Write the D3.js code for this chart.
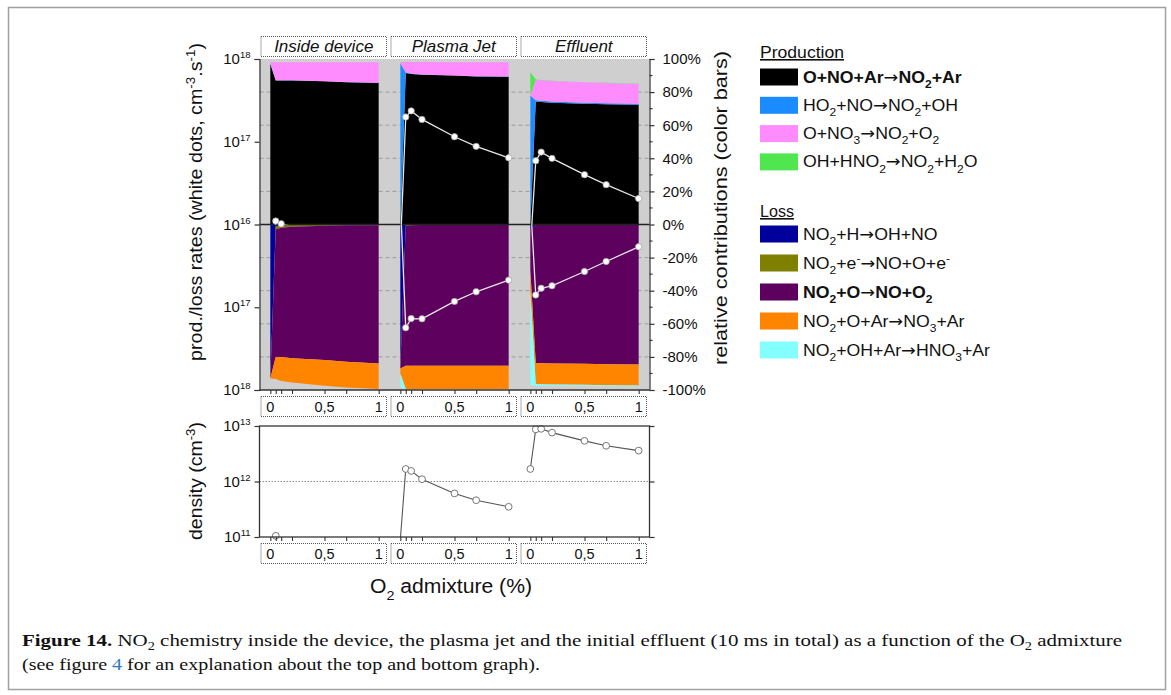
<!DOCTYPE html>
<html><head><meta charset="utf-8">
<script src="https://cdn.jsdelivr.net/npm/d3@7"></script>
<style>
body{margin:0;background:#fff}
svg{display:block}
text{font-family:"Liberation Sans",Arial,sans-serif;fill:#111}
</style>
</head><body>
<svg id="c" width="1171" height="695"></svg>
<script>
// ---------------- DATA ----------------
const xValues = [0, 0.05, 0.1, 0.2, 0.5, 0.7, 1];           // O2 admixture (%)
const panels = ["Inside device", "Plasma Jet", "Effluent"];
const xTickLabels = [[0, "0"], [0.5, "0,5"], [1, "1"]];
const rateTickValues = [100, 50, 0, -50, -100];
const rateTickExponents = ["18", "17", "16", "17", "18"];
const pctTicks = [-100, -80, -60, -40, -20, 0, 20, 40, 60, 80, 100];
const densTickValues = [1e13, 1e12, 1e11];
const densTickExponents = ["13", "12", "11"];

// Relative contributions (%) per panel [inside, jet, effluent], aligned with xValues
// production
const prodONOAr   = [[97, 87, 87, 87, 86.5, 86, 85.5], [0.5, 91.5, 91, 90.5, 90, 89.5, 89.3], [0, 74.3, 74, 73.6, 73, 72.7, 72.3]];
const prodHO2NO   = [[0.5, 0.1, 0.1, 0.1, 0.1, 0.1, 0.1], [97, 0.3, 0.2, 0.2, 0.1, 0.1, 0.1], [78, 0.8, 0.7, 0.7, 0.6, 0.6, 0.6]];
const prodONO3    = [[0.5, 11, 11, 11, 11.5, 12, 12.5], [0.3, 6.5, 7, 7.5, 8, 8.4, 8.7], [0, 12.2, 12.4, 12.4, 12.3, 12.2, 12]];
const prodOHHNO2  = [[0, 0, 0, 0, 0, 0, 0], [0.2, 0.1, 0, 0, 0, 0, 0], [14, 0.3, 0.2, 0.2, 0.1, 0.1, 0.1]];
// loss
const lossNO2H    = [[93, 1, 0.5, 0.3, 0.2, 0.1, 0.1], [86, 0.5, 0.3, 0.2, 0.1, 0.1, 0.1], [3, 0.3, 0.2, 0.2, 0.1, 0.1, 0.1]];
const lossNO2e    = [[0, 2, 1.5, 1, 0.6, 0.4, 0.3], [0, 0.2, 0.1, 0.1, 0.1, 0.1, 0.1], [0, 0, 0, 0, 0, 0, 0]];
const lossNO2O    = [[0, 77, 78, 79.5, 81, 82.5, 83.6], [1, 84.7, 85, 85.1, 85.2, 85.2, 85.2], [25, 83.4, 83.6, 83.8, 84, 84.3, 84.5]];
const lossNO2OAr  = [[0, 13.4, 14.5, 14.7, 15.7, 15.5, 15.4], [3, 14, 14, 14, 14, 14, 14], [12, 12.7, 12.7, 12.7, 12.7, 12.7, 12.7]];
const lossNO2OHAr = [[0, 0, 0, 0, 0, 0, 0], [8, 0.3, 0.2, 0.1, 0.1, 0.1, 0.1], [57, 1, 0.9, 0.8, 0.7, 0.6, 0.5]];

// total production / loss rates (cm^-3 s^-1), white dots
const prodRate = [[1e15, 1.1e16, 1.02e16, 9.5e15, 9e15, 8.5e15, 8e15],
                  [5e15, 1.99e17, 2.36e17, 1.86e17, 1.15e17, 8.8e16, 6.4e16],
                  [5e15, 5.9e16, 7.5e16, 6.3e16, 4.0e16, 3.03e16, 2.06e16]];
const lossRate = [[1e15, 9e15, 8.5e15, 8e15, 7e15, 6.5e15, 6e15],
                  [5e15, 1.77e17, 1.37e17, 1.38e17, 8.5e16, 6.5e16, 4.7e16],
                  [5e15, 7.1e16, 5.9e16, 5.5e16, 3.7e16, 2.8e16, 1.86e16]];
// NO2 density (cm^-3)
const density = [[5e10, 1.05e11, 9e10, 7e10, 5e10, 4e10, 3e10],
                 [9e10, 1.68e12, 1.55e12, 1.1e12, 6.1e11, 4.6e11, 3.5e11],
                 [1.68e12, 8.7e12, 8.9e12, 7.6e12, 5.4e12, 4.4e12, 3.6e12]];

const prodLabels = ["O+NO+Ar→NO{_2}+Ar", "HO{_2}+NO→NO{_2}+OH", "O+NO{_3}→NO{_2}+O{_2}", "OH+HNO{_2}→NO{_2}+H{_2}O"];
const lossLabels = ["NO{_2}+H→OH+NO", "NO{_2}+e{^-}→NO+O+e{^-}", "NO{_2}+O→NO+O{_2}", "NO{_2}+O+Ar→NO{_3}+Ar", "NO{_2}+OH+Ar→HNO{_3}+Ar"];
const prodBold = [true, false, false, false];
const lossBold = [false, false, true, false, false];
const prodColors = ["#000000", "#1a8cff", "#ff8cff", "#4fe64f"];
const lossColors = ["#00009c", "#7f7f00", "#5e005e", "#ff8400", "#84ffff"];

// ---------------- DRAW ----------------
const svg = d3.select("#c");
const FONT = '"Liberation Sans", Arial, sans-serif';

function rich(sel, str, size) {
  const parts = str.split(/(\{[_^][^}]*\}|→)/).filter(s => s.length);
  let shift = 0;
  parts.forEach(p => {
    const m = p.match(/^\{([_^])([^}]*)\}$/);
    let target = 0, txt = p, fs = size;
    if (m) { target = m[1] === "_" ? size * 0.33 : -size * 0.4; txt = m[2]; fs = size * 0.68; }
    const t = sel.append("tspan").attr("dy", target - shift).attr("font-size", fs).text(txt);
    if (p === "→") t.style("font-family", '"DejaVu Sans", sans-serif').attr("font-weight", "normal");
    shift = target;
  });
  return sel;
}
function fit(sel, len) {
  sel.attr("textLength", len).attr("lengthAdjust", "spacingAndGlyphs");
  return sel;
}

// outer frame
svg.append("rect").attr("x", 8.5).attr("y", 7.5).attr("width", 1157).attr("height", 682)
  .attr("fill", "none").attr("stroke", "#a0a0a0").attr("stroke-width", 1.5);

const plotL = 259.5, panelW = 130, plotT = 59, plotB = 390;
const plotR = plotL + panelW * panels.length;
const panelX = panels.map((p, i) => d3.scaleLinear().domain([-0.1, 1.1]).range([plotL + panelW * i, plotL + panelW * (i + 1)]));
const pctY = d3.scaleLinear().domain([-100, 100]).range([plotB, plotT]);
const mid = pctY(0);
const prodY = d3.scaleLog().domain([1e16, 1e18]).range([mid, plotT]);
const lossY = d3.scaleLog().domain([1e16, 1e18]).range([mid, plotB]);
const densT = 426, densB = 537;
const densY = d3.scaleLog().domain([1e11, 1e13]).range([densB, densT]);

const defs = svg.append("defs");
defs.append("clipPath").attr("id", "cpProd").append("rect").attr("x", plotL).attr("y", plotT).attr("width", plotR - plotL).attr("height", mid - plotT);
defs.append("clipPath").attr("id", "cpLoss").append("rect").attr("x", plotL).attr("y", mid).attr("width", plotR - plotL).attr("height", plotB - mid);
defs.append("clipPath").attr("id", "cpDens").append("rect").attr("x", plotL).attr("y", densT).attr("width", plotR - plotL).attr("height", densB - densT);

// top plot background
svg.append("rect").attr("x", plotL).attr("y", plotT).attr("width", plotR - plotL).attr("height", plotB - plotT).attr("fill", "#cfcfcf");
// dashed grid
svg.append("g").selectAll("line").data(pctTicks.filter(v => v !== 0 && Math.abs(v) !== 100)).join("line")
  .attr("x1", plotL).attr("x2", plotR).attr("y1", d => pctY(d)).attr("y2", d => pctY(d))
  .attr("stroke", "#9c9c9c").attr("stroke-width", 1).attr("stroke-dasharray", "4,3");

const prodKeys = ["a", "b", "c", "d"];
const lossKeys = ["a", "b", "c", "d", "e"];
const prodSeries = [prodONOAr, prodHO2NO, prodONO3, prodOHHNO2];
const lossSeries = [lossNO2H, lossNO2e, lossNO2O, lossNO2OAr, lossNO2OHAr];

panels.forEach((p, i) => {
  const g = svg.append("g");
  const rowsP = xValues.map((x, j) => { const r = { x }; prodKeys.forEach((k, s) => r[k] = prodSeries[s][i][j]); return r; });
  const rowsL = xValues.map((x, j) => { const r = { x }; lossKeys.forEach((k, s) => r[k] = lossSeries[s][i][j]); return r; });
  const stP = d3.stack().keys(prodKeys)(rowsP);
  const stL = d3.stack().keys(lossKeys)(rowsL);
  const areaP = d3.area().x(d => panelX[i](d.data.x)).y0(d => pctY(d[0])).y1(d => pctY(d[1]));
  const areaL = d3.area().x(d => panelX[i](d.data.x)).y0(d => pctY(-d[0])).y1(d => pctY(-d[1]));
  g.selectAll(".p").data(stP).join("path").attr("d", areaP).attr("fill", (d, s) => prodColors[s]);
  g.selectAll(".l").data(stL).join("path").attr("d", areaL).attr("fill", (d, s) => lossColors[s]);
});

// zero line
svg.append("line").attr("x1", plotL).attr("x2", plotR).attr("y1", mid).attr("y2", mid).attr("stroke", "#222").attr("stroke-width", 1.3);

// white dots (rates)
panels.forEach((p, i) => {
  [[prodRate, prodY, "cpProd"], [lossRate, lossY, "cpLoss"]].forEach(([arr, ys, cp]) => {
    const pts = xValues.map((x, j) => ({ x, v: arr[i][j] }));
    const line = d3.line().x(d => panelX[i](d.x)).y(d => ys(d.v));
    svg.append("path").attr("d", line(pts)).attr("clip-path", `url(#${cp})`)
      .attr("fill", "none").attr("stroke", "#e8e8e8").attr("stroke-width", 1.3);
    svg.append("g").selectAll("circle").data(pts.filter(d => d.v >= 1e16)).join("circle")
      .attr("cx", d => panelX[i](d.x)).attr("cy", d => ys(d.v)).attr("r", 3.2)
      .attr("fill", "#fff").attr("stroke", "#9a9a9a").attr("stroke-width", 0.7);
  });
});

// left axis (rates)
const axL = svg.append("g").attr("transform", `translate(${plotL},0)`)
  .call(d3.axisLeft(pctY).tickValues(rateTickValues).tickSize(5).tickFormat(""));
axL.selectAll("path,line").attr("stroke", "#333").attr("stroke-width", 1.2);
rateTickValues.forEach((v, k) => {
  const t = svg.append("text").attr("x", plotL - 9).attr("y", pctY(v) + 5).attr("text-anchor", "end").attr("font-size", 15);
  t.append("tspan").text("10");
  t.append("tspan").attr("dy", -6).attr("font-size", 9.5).text(rateTickExponents[k]);
});
// right axis (percent)
const axR = svg.append("g").attr("transform", `translate(${plotR},0)`)
  .call(d3.axisRight(pctY).tickValues(pctTicks).tickSize(5).tickPadding(8).tickFormat(d => d + "%"));
axR.selectAll("path,line").attr("stroke", "#333").attr("stroke-width", 1.2);
axR.selectAll("text").attr("font-family", FONT).attr("font-size", 15).attr("fill", "#111");
svg.append("g").selectAll("line").data(d3.range(-90, 100, 20)).join("line")
  .attr("x1", plotR).attr("x2", plotR + 3).attr("y1", d => pctY(d)).attr("y2", d => pctY(d))
  .attr("stroke", "#333").attr("stroke-width", 1.2);
// bottom line of top plot + ticks
svg.append("line").attr("x1", plotL).attr("x2", plotR).attr("y1", plotB).attr("y2", plotB).attr("stroke", "#333").attr("stroke-width", 1.3);
panels.forEach((p, i) => {
  const a = svg.append("g").attr("transform", `translate(0,${plotB})`)
    .call(d3.axisBottom(panelX[i]).tickValues(xValues).tickSize(4).tickFormat(""));
  a.select(".domain").remove();
  a.selectAll("line").attr("stroke", "#333").attr("stroke-width", 1.1);
});

// panel header boxes
panels.forEach((p, i) => {
  const x0 = panelX[i](-0.1) + 1.5, x1 = panelX[i](1.1) - 3;
  svg.append("rect").attr("x", x0).attr("y", 36.5).attr("width", x1 - x0).attr("height", 20)
    .attr("fill", "#fff").attr("stroke", "#555").attr("stroke-width", 1).attr("stroke-dasharray", "1,1");
  svg.append("text").attr("x", (x0 + x1) / 2).attr("y", 52).attr("text-anchor", "middle")
    .attr("font-size", 17).attr("font-style", "italic").text(p);
});

// x tick label boxes (below top and below density plots)
function xLabelBoxes(y0) {
  panels.forEach((p, i) => {
    const x0 = panelX[i](-0.1) + 1.5, x1 = panelX[i](1.1) - 3;
    svg.append("rect").attr("x", x0).attr("y", y0).attr("width", x1 - x0).attr("height", 20)
      .attr("fill", "#fff").attr("stroke", "#555").attr("stroke-width", 1).attr("stroke-dasharray", "1,1");
    xTickLabels.forEach(([v, lab]) => {
      svg.append("text").attr("x", panelX[i](v)).attr("y", y0 + 15).attr("text-anchor", "middle")
        .attr("font-size", 14.5).text(lab);
    });
  });
}
xLabelBoxes(396.5);
xLabelBoxes(543.5);

// density plot
svg.append("line").attr("x1", plotL).attr("x2", plotR).attr("y1", densY(1e12)).attr("y2", densY(1e12))
  .attr("stroke", "#8a8a8a").attr("stroke-width", 1).attr("stroke-dasharray", "1.5,1.5");
panels.forEach((p, i) => {
  const pts = xValues.map((x, j) => ({ x, v: density[i][j] }));
  const line = d3.line().x(d => panelX[i](d.x)).y(d => densY(d.v));
  svg.append("path").attr("d", line(pts)).attr("clip-path", "url(#cpDens)")
    .attr("fill", "none").attr("stroke", "#555").attr("stroke-width", 1.1);
  svg.append("g").selectAll("circle").data(pts.filter(d => d.v >= 1e11 && d.v <= 1e13)).join("circle")
    .attr("cx", d => panelX[i](d.x)).attr("cy", d => densY(d.v)).attr("r", 3.4)
    .attr("fill", "#fff").attr("stroke", "#777").attr("stroke-width", 1);
  const a = svg.append("g").attr("transform", `translate(0,${densB})`)
    .call(d3.axisBottom(panelX[i]).tickValues(xValues).tickSize(4).tickFormat(""));
  a.select(".domain").remove();
  a.selectAll("line").attr("stroke", "#333").attr("stroke-width", 1.1);
});
svg.append("rect").attr("x", plotL).attr("y", densT).attr("width", plotR - plotL).attr("height", densB - densT)
  .attr("fill", "none").attr("stroke", "#333").attr("stroke-width", 1.3);
const axD = svg.append("g").attr("transform", `translate(${plotL},0)`)
  .call(d3.axisLeft(densY).tickValues(densTickValues).tickSize(5).tickFormat(""));
axD.select(".domain").remove();
axD.selectAll("line").attr("stroke", "#333").attr("stroke-width", 1.2);
const axD2 = svg.append("g").attr("transform", `translate(${plotR},0)`)
  .call(d3.axisRight(densY).tickValues(densTickValues).tickSize(5).tickFormat(""));
axD2.select(".domain").remove();
axD2.selectAll("line").attr("stroke", "#333").attr("stroke-width", 1.2);
densTickValues.forEach((v, k) => {
  const t = svg.append("text").attr("x", plotL - 9).attr("y", densY(v) + 5).attr("text-anchor", "end").attr("font-size", 15);
  t.append("tspan").text("10");
  t.append("tspan").attr("dy", -6).attr("font-size", 9.5).text(densTickExponents[k]);
});

// axis titles
fit(rich(svg.append("text").attr("transform", "translate(202,202) rotate(-90)").attr("text-anchor", "middle").attr("font-size", 18),
  "prod./loss rates (white dots, cm{^-3}.s{^-1})", 18), 318);
fit(rich(svg.append("text").attr("transform", "translate(727,208) rotate(-90)").attr("text-anchor", "middle").attr("font-size", 19),
  "relative contributions (color bars)", 19), 314);
fit(rich(svg.append("text").attr("transform", "translate(202,481) rotate(-90)").attr("text-anchor", "middle").attr("font-size", 18),
  "density (cm{^-3})", 18), 118);
fit(rich(svg.append("text").attr("x", 451).attr("y", 593).attr("text-anchor", "middle").attr("font-size", 20),
  "O{_2} admixture (%)", 20), 162);

// legend
const lgX = 760, txX = 803;
fit(svg.append("text").attr("x", lgX).attr("y", 58).attr("font-size", 16).attr("text-decoration", "underline").text("Production"), 84);
const legendTexts = [];
prodLabels.forEach((lab, k) => {
  const cy = 77 + k * 28.3;
  svg.append("rect").attr("x", lgX).attr("y", cy - 8.5).attr("width", 38).attr("height", 17).attr("fill", prodColors[k]);
  legendTexts.push(rich(svg.append("text").attr("x", txX).attr("y", cy + 5.5).attr("font-size", 16).attr("font-weight", prodBold[k] ? "bold" : "normal"), lab, 16));
});
fit(svg.append("text").attr("x", lgX).attr("y", 217).attr("font-size", 16).attr("text-decoration", "underline").text("Loss"), 34);
lossLabels.forEach((lab, k) => {
  const cy = 234 + k * 29;
  svg.append("rect").attr("x", lgX).attr("y", cy - 8.5).attr("width", 38).attr("height", 17).attr("fill", lossColors[k]);
  legendTexts.push(rich(svg.append("text").attr("x", txX).attr("y", cy + 5.5).attr("font-size", 16).attr("font-weight", lossBold[k] ? "bold" : "normal"), lab, 16));
});
const refLen = legendTexts[1].node().getComputedTextLength();
const kScale = 155 / refLen;
legendTexts.forEach(t => fit(t, t.node().getComputedTextLength() * kScale));

// caption
const cap1 = svg.append("text").attr("x", 22).attr("y", 646).attr("font-size", 17.5)
  .attr("textLength", 1100).attr("lengthAdjust", "spacingAndGlyphs")
  .style("font-family", '"Liberation Serif", "Times New Roman", serif');
cap1.append("tspan").attr("font-weight", "bold").text("Figure 14. ");
cap1.append("tspan").text("NO");
cap1.append("tspan").attr("dy", 4).attr("font-size", 12).text("2");
cap1.append("tspan").attr("dy", -4).text(" chemistry inside the device, the plasma jet and the initial effluent (10 ms in total) as a function of the O");
cap1.append("tspan").attr("dy", 4).attr("font-size", 12).text("2");
cap1.append("tspan").attr("dy", -4).text(" admixture");
const cap2 = svg.append("text").attr("x", 22).attr("y", 670).attr("font-size", 17.5)
  .attr("textLength", 518).attr("lengthAdjust", "spacingAndGlyphs")
  .style("font-family", '"Liberation Serif", "Times New Roman", serif');
cap2.append("tspan").text("(see figure ");
cap2.append("tspan").attr("fill", "#2b7bb9").text("4");
cap2.append("tspan").text(" for an explanation about the top and bottom graph).");
</script>
</body></html>
